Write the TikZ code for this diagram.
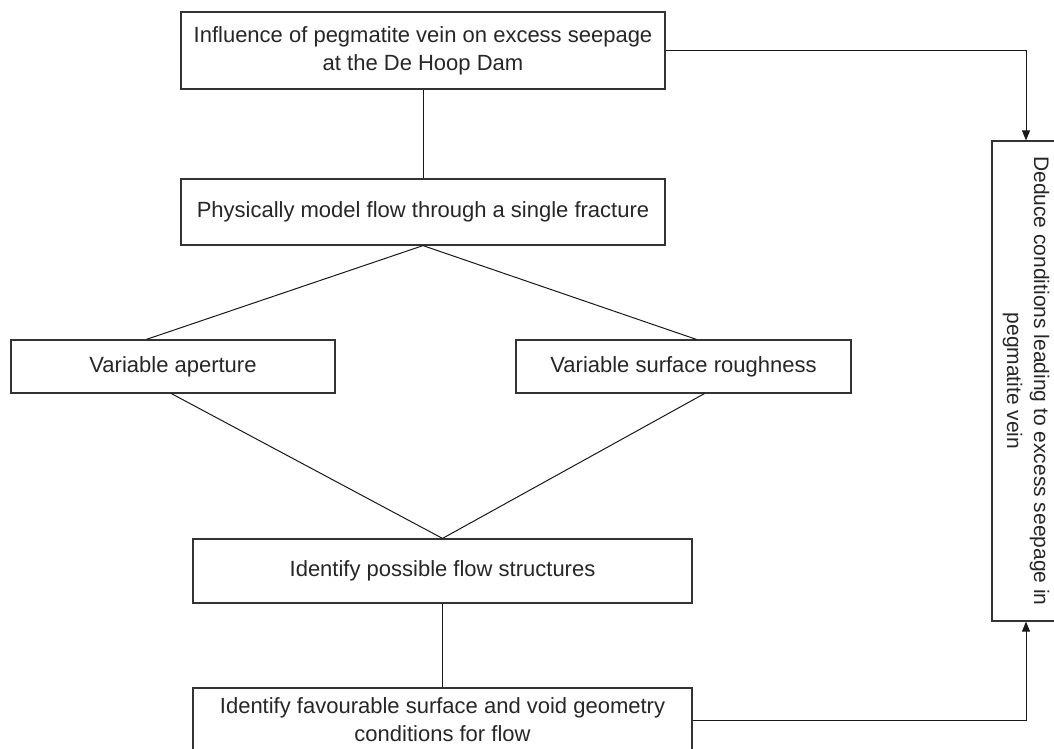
\documentclass[tikz,border=0pt]{standalone}
\usepackage{fontspec}
\setmainfont{Liberation Sans}
\usetikzlibrary{arrows.meta,calc}
\begin{document}
\begin{tikzpicture}[x=1pt,y=-1pt,
  box/.style={draw=black!80, line width=1.2pt, align=center, inner sep=0pt,
    text=black!85, font=\fontsize{22}{28}\selectfont},
  conn/.style={draw=black!90, line width=1pt},
  arr/.style={conn, -{Triangle[length=10pt,width=8pt]}}]
\useasboundingbox (0,0) rectangle (1054,749);
\node[box, minimum width=484pt, minimum height=77pt] (b1) at (423,50.5)
  {Influence of pegmatite vein on excess seepage\\at the De Hoop Dam};
\node[box, minimum width=484pt, minimum height=66pt] (b2) at (423,212)
  {Physically model flow through a single fracture};
\node[box, minimum width=324pt, minimum height=53pt] (b3) at (173,366.5)
  {Variable aperture};
\node[box, minimum width=335pt, minimum height=53pt] (b4) at (683.5,366.5)
  {Variable surface roughness};
\node[box, minimum width=499pt, minimum height=64pt] (b5) at (442.5,571)
  {Identify possible flow structures};
\node[box, minimum width=499pt, minimum height=64pt] (b6) at (442.5,720)
  {Identify favourable surface and void geometry\\conditions for flow};
\node[box, rotate=-90, minimum width=480pt, minimum height=68pt,
  font=\fontsize{21}{27}\selectfont] (r) at (1026,381)
  {Deduce conditions leading to excess seepage in\\pegmatite vein};
\coordinate (b3t) at ($(b3.north west)+(136,0)$);
\coordinate (b4t) at ($(b4.north west)+(181,0)$);
\coordinate (b3b) at ($(b3.south west)+(161,0)$);
\coordinate (b4b) at ($(b4.south west)+(189,0)$);
\draw[conn] (b1.south) -- (b2.north);
\draw[conn] (b2.south) -- (b3t);
\draw[conn] (b2.south) -- (b4t);
\draw[conn] (b3b) -- (b5.north);
\draw[conn] (b4b) -- (b5.north);
\draw[conn] (b5.south) -- (b6.north);
\draw[arr] (b1.east) -| (r.west);
\draw[arr] (b6.east) -| (r.east);
\end{tikzpicture}
\end{document}
